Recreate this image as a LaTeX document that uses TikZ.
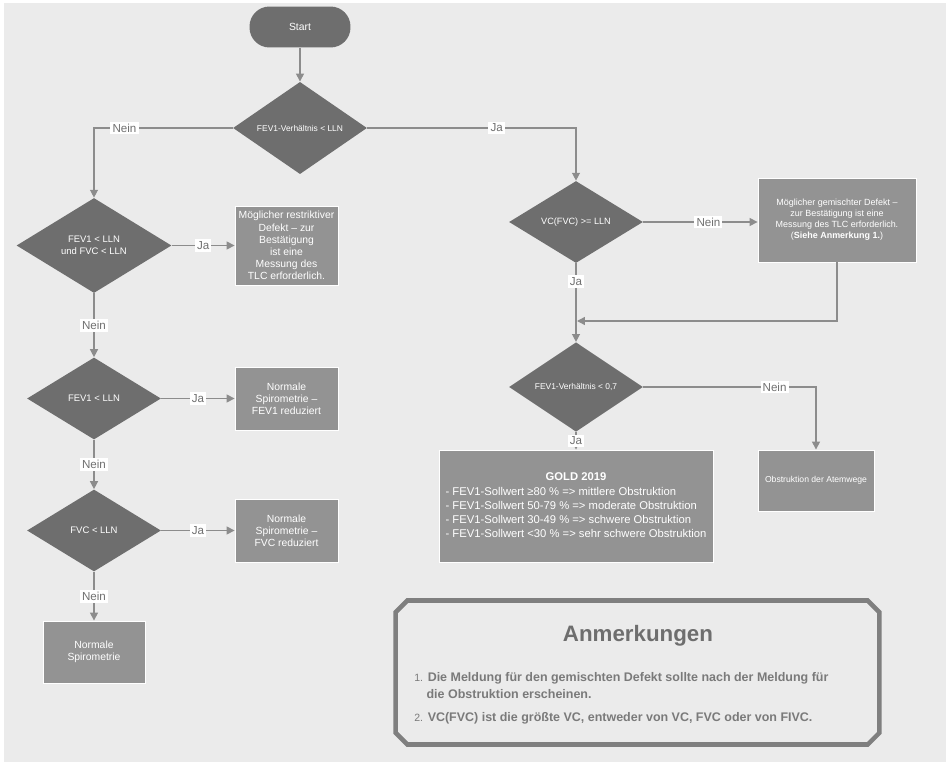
\documentclass[tikz,border=0pt]{standalone}
\usepackage{fontspec}
\setmainfont{Liberation Sans}
\usepackage{xcolor}
\usetikzlibrary{arrows.meta, positioning, shapes.geometric, shapes.misc}

\definecolor{bggray}{HTML}{EBEBEB}
\definecolor{decgray}{HTML}{6E6E6E}
\definecolor{boxgray}{HTML}{939393}
\definecolor{linegray}{HTML}{8C8C8C}
\definecolor{lblgray}{HTML}{707070}
\definecolor{framegray}{HTML}{7F7F7F}
\definecolor{notegray}{HTML}{7A7A7A}

\begin{document}
\begin{tikzpicture}[x=0.02cm, y=-0.02cm]
  \tikzset{
    term/.style={rectangle, rounded corners=0.4cm, fill=decgray, text=white,
                 minimum width=2.02cm, minimum height=0.82cm,
                 font=\fontsize{5.9}{7}\selectfont},
    dec/.style={diamond, fill=decgray, text=white, inner sep=0pt, align=center,
                minimum width=2.68cm, minimum height=1.64cm,
                font=\fontsize{5.4}{6.6}\selectfont},
    res/.style={rectangle, fill=boxgray, draw=white, line width=0.5pt,
                text=white, align=center, inner sep=1pt,
                minimum width=2.06cm, minimum height=1.26cm,
                font=\fontsize{5.9}{6.9}\selectfont},
    lbl/.style={fill=white, text=lblgray, inner sep=1.2pt,
                font=\fontsize{6.6}{7}\selectfont},
    arr/.style={-{Triangle[length=4.5pt, width=4.5pt]}, draw=linegray, line width=0.8pt},
    notetext/.style={text=notegray, align=left, inner sep=0pt,
                     font=\fontsize{7.1}{9.6}\selectfont\bfseries}
  }
  \useasboundingbox (0,0) rectangle (948,764);
  \fill[bggray] (4,3) rectangle (946,762);

  % linke Spalte
  \node[term] (start) at (300,27) {Start};
  \node[dec, font=\fontsize{4.8}{6}\selectfont] (ratio) at (300,128) {FEV1-Verhältnis < LLN};
  \node[dec, minimum width=3.1cm, minimum height=1.9cm] (both) at (94,245.5) {FEV1 < LLN\\und FVC < LLN};
  \node[dec] (fevlow) at (94,398.5) {FEV1 < LLN};
  \node[dec] (fvclow) at (94,530.5) {FVC < LLN};
  \node[res, minimum height=1.58cm] (restr) at (286.5,245.5)
    {Möglicher restriktiver\\Defekt – zur\\Bestätigung\\ist eine\\Messung des\\TLC erforderlich.};
  \node[res] (fevred) at (286.5,398.5) {Normale\\Spirometrie –\\FEV1 reduziert};
  \node[res] (fvcred) at (286.5,530.5) {Normale\\Spirometrie –\\FVC reduziert};
  \node[res, minimum width=2.04cm, minimum height=1.24cm] (normal) at (94,652) {Normale\\Spirometrie};

  % rechte Spalte
  \node[dec, font=\fontsize{5.2}{6}\selectfont] (vcfvc) at (576,222) {VC(FVC) >= LLN};
  \node[res, minimum width=3.16cm, minimum height=1.68cm, font=\fontsize{5.1}{6.2}\selectfont] (mixed) at (837,220)
    {Möglicher gemischter Defekt –\\zur Bestätigung ist eine\\Messung des TLC erforderlich.\\(\textbf{Siehe Anmerkung 1.})};
  \node[dec, font=\fontsize{4.8}{6}\selectfont] (ratio7) at (576,387) {FEV1-Verhältnis < 0,7};
  \node[res, minimum width=5.48cm, minimum height=2.24cm, font=\fontsize{6.4}{7.9}\selectfont] (gold) at (576,506)
    {\begin{tabular}{@{}l@{}}
       \multicolumn{1}{@{}c@{}}{\textbf{GOLD 2019}}\\[1pt]
       - FEV1-Sollwert ≥80 \% => mittlere Obstruktion\\
       - FEV1-Sollwert 50-79 \% => moderate Obstruktion\\
       - FEV1-Sollwert 30-49 \% => schwere Obstruktion\\
       - FEV1-Sollwert <30 \% => sehr schwere Obstruktion
     \end{tabular}};
  \node[res, minimum width=2.32cm, minimum height=1.22cm, font=\fontsize{4.9}{6}\selectfont] (airway) at (816,480.5)
    {Obstruktion der Atemwege};
  \coordinate (merge) at (577,321);

  % Anmerkungen
  \node[chamfered rectangle, chamfered rectangle xsep=0.2cm, chamfered rectangle ysep=0.2cm,
        draw=framegray, line width=2.6pt, minimum width=9.68cm, minimum height=2.88cm] (notes) at (637.5,672.5) {};
  \node[text=decgray, font=\fontsize{12.7}{14}\selectfont\bfseries] (notehead) at (638,636) {Anmerkungen};
  \node[notetext, anchor=west] (note1) at (414,685.5)
    {{\mdseries\fontsize{6}{9.6}\selectfont 1.} Die Meldung für den gemischten Defekt sollte nach der Meldung für\\
     \phantom{\mdseries\fontsize{6}{9.6}\selectfont 1.} die Obstruktion erscheinen.};
  \node[notetext, anchor=west] (note2) at (414,718)
    {{\mdseries\fontsize{6}{9.6}\selectfont 2.} VC(FVC) ist die größte VC, entweder von VC, FVC oder von FIVC.};

  % Verbindungen
  \draw[arr] (start) -- (ratio);
  \draw[arr] (ratio.west) -| node[lbl, pos=0.39] {Nein} (both.north);
  \draw[arr] (ratio.east) -| node[lbl, pos=0.31] {Ja} (vcfvc.north);
  \draw[arr] (both) -- node[lbl] {Ja} (restr);
  \draw[arr] (both) -- node[lbl] {Nein} (fevlow);
  \draw[arr] (fevlow) -- node[lbl] {Ja} (fevred);
  \draw[arr] (fevlow) -- node[lbl] {Nein} (fvclow);
  \draw[arr] (fvclow) -- node[lbl] {Ja} (fvcred);
  \draw[arr] (fvclow) -- node[lbl] {Nein} (normal);
  \draw[arr] (vcfvc.east) -- node[lbl, pos=0.57] {Nein} (vcfvc.east -| mixed.west);
  \draw[arr] (vcfvc) -- node[lbl, pos=0.23] {Ja} (ratio7);
  \draw[arr] (mixed.south) |- (merge);
  \draw[arr] (ratio7.east) -| node[lbl, pos=0.38] {Nein} (airway.north);
  \draw[arr] (ratio7) -- node[lbl] {Ja} (gold);
\end{tikzpicture}
\end{document}
